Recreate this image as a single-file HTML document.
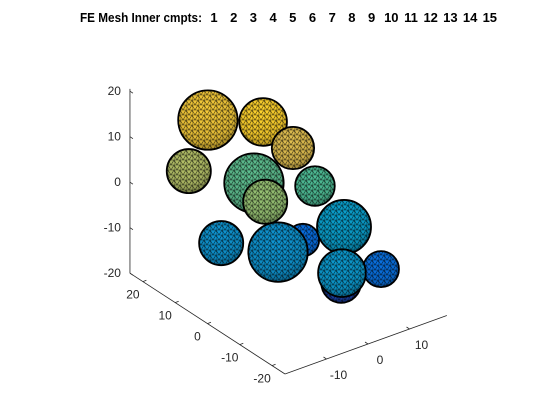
<!DOCTYPE html>
<html><head><meta charset="utf-8"><style>
html,body{margin:0;padding:0;background:#fff;}
svg{display:block;font-family:"Liberation Sans",Arial,sans-serif;}
</style></head><body>
<svg id="chart" width="560" height="420" viewBox="0 0 560 420" xmlns="http://www.w3.org/2000/svg">
<defs>
<pattern id="mesh" width="6" height="5" patternUnits="userSpaceOnUse">
<path d="M0 0H6M0 5H6M0 0L3 5L6 0M0 5L0 0" stroke="#000" stroke-width="0.6" stroke-opacity="0.7" fill="none"/>
</pattern>
</defs>
<g id="title" font-weight="bold" font-size="13" fill="#000"></g>
<g id="axes" stroke="#262626" stroke-width="0.8" fill="none"></g>
<g id="labels" font-size="12" fill="#262626"></g>
<g id="spheres"></g>
</svg>
<script>
// sphere data (data coordinates): a = right axis, b = left axis, z = vertical
const sphA = [-19.9, -6.6, 0.6, -24.5, -8.8, 5.9, -6.1, -16.7, 3, -3, 12.9, 21.8, 12.2, 12.4];
const sphB = [0, 0, 0, 0, 0, 0, 0, 0, 0, 0, 0, 0, 0, 0];
const sphZ = [24.7, 19.9, 11.8, 15.0, 7.2, 1.7, 2.2, -3.4, -9.2, -9.9, -9.6, -21.8, -21.7, -19.6];
const sphR = [6.6, 5.3, 4.7, 4.9, 6.6, 4.4, 4.9, 4.9, 3.6, 6.6, 6.0, 4.0, 4.4, 5.3];
const sphC = [0.84, 0.88, 0.77, 0.68, 0.55, 0.53, 0.63, 0.3, 0.16, 0.3, 0.34, 0.17, 0.06, 0.32];
const zTicks = [20, 10, 0, -10, -20];
const bTicks = [20, 10, 0, -10, -20];
const aTicks = [-10, 0, 10];
const cmptLabels = ["1","2","3","4","5","6","7","8","9","10","11","12","13","14","15"];

const NS = "http://www.w3.org/2000/svg";
function P(a, b, z) {
  return [285 + 4.15*(a+20) - 3.23*(b+24), 374 - 1.5*(a+20) - 2.1*(b+24) - 4.55*(z+20)];
}
const stops = [[53,42,135],[3,99,225],[20,133,212],[6,167,198],[56,185,158],[146,191,115],[217,186,86],[252,206,46],[249,251,14]];
function parula(t, k) {
  t = Math.max(0, Math.min(1, t)) * 8;
  const i = Math.min(7, Math.floor(t)), f = t - i;
  const c = stops[i].map((v, j) => Math.round((v + (stops[i+1][j]-v)*f) * k));
  return "rgb(" + c.map(v => Math.min(255, v)).join(",") + ")";
}
function mk(tag, attrs, parent) {
  const e = document.createElementNS(NS, tag);
  for (const k in attrs) e.setAttribute(k, attrs[k]);
  parent.appendChild(e);
  return e;
}
// title
const tg = document.getElementById("title");
let t0 = mk("text", {x: 80, y: 22, textLength: 122, lengthAdjust: "spacingAndGlyphs"}, tg);
t0.textContent = "FE Mesh Inner cmpts:";


cmptLabels.forEach((s, i) => {
  const t = mk("text", {x: 214 + i*19.7, y: 22, "text-anchor": "middle"}, tg);
  t.textContent = s;
  
  
});
// axes
const ag = document.getElementById("axes"), lg = document.getElementById("labels");
const bMax = 24, bMin = -24;
let zl = mk("line", {x1: P(-20,bMax,-20)[0], y1: P(-20,bMax,-20)[1], x2: P(-20,bMax,20.5)[0], y2: P(-20,bMax,20.5)[1]}, ag);


let bl = mk("line", {x1: P(-20,bMax,-20)[0], y1: P(-20,bMax,-20)[1], x2: P(-20,bMin,-20)[0], y2: P(-20,bMin,-20)[1]}, ag);


let al = mk("line", {x1: P(-20,bMin,-20)[0], y1: P(-20,bMin,-20)[1], x2: P(19,bMin,-20)[0], y2: P(19,bMin,-20)[1]}, ag);


zTicks.forEach(v => {
  const p = P(-20, bMax, v);
  const tk = mk("line", {x1: p[0], y1: p[1], x2: p[0]+3, y2: p[1]+2}, ag);
  
  
  const t = mk("text", {x: p[0]-9, y: p[1]+4, "text-anchor": "end"}, lg);
  t.textContent = v;
  
  
});
bTicks.forEach(v => {
  const p = P(-20, v, -20);
  const tk = mk("line", {x1: p[0], y1: p[1], x2: p[0]+3.5, y2: p[1]-1.3}, ag);
  
  
  const t = mk("text", {x: p[0]-10, y: p[1]+17, "text-anchor": "middle"}, lg);
  t.textContent = v;
  
  
});
aTicks.forEach(v => {
  const p = P(v, bMin, -20);
  const tk = mk("line", {x1: p[0], y1: p[1], x2: p[0]-3, y2: p[1]-2}, ag);
  
  
  const t = mk("text", {x: p[0]+12, y: p[1]+20, "text-anchor": "middle"}, lg);
  t.textContent = v;
  
  
});
// spheres
const sg = document.getElementById("spheres");
const defs = document.querySelector("defs");
sphA.forEach((a, i) => {
  const p = P(a, sphB[i], sphZ[i]);
  const r = sphR[i] * 4.5;
  const gr = mk("radialGradient", {id: "g" + i, cx: "0.45", cy: "0.35", r: "0.7", fx: "0.45", fy: "0.3"}, defs);
  mk("stop", {offset: "0", "stop-color": parula(sphC[i], 1.02)}, gr);
  mk("stop", {offset: "0.7", "stop-color": parula(sphC[i], 0.92)}, gr);
  mk("stop", {offset: "1", "stop-color": parula(sphC[i], 0.65)}, gr);
  const g = mk("g", {}, sg);
  
  
  mk("circle", {cx: p[0], cy: p[1], r: r, fill: "url(#g" + i + ")"}, g);
  mk("circle", {cx: p[0], cy: p[1], r: r, fill: "url(#mesh)", stroke: "#000", "stroke-width": 1.8}, g);
});
</script>
</body></html>
